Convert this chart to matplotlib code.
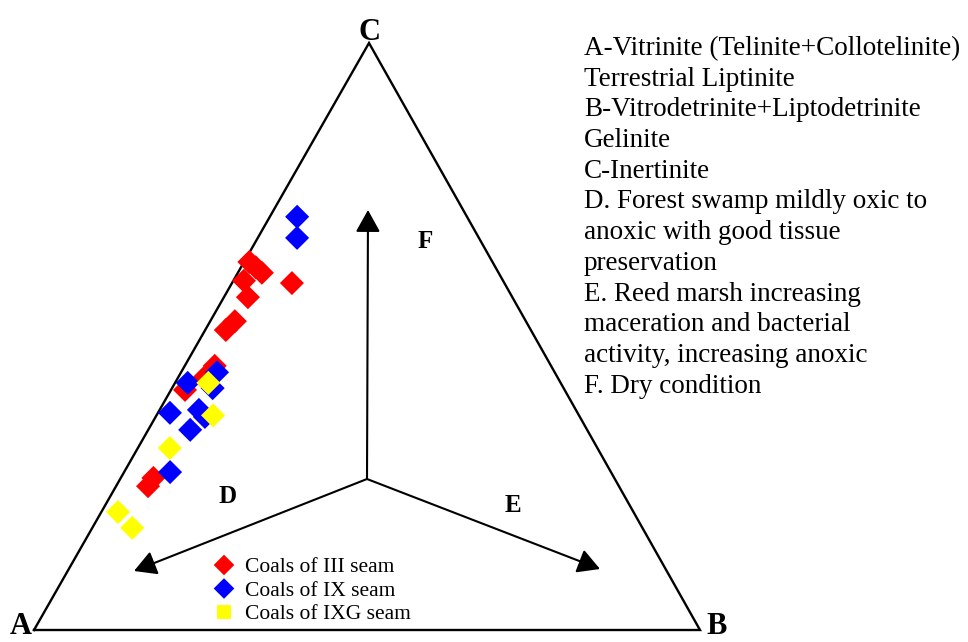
import matplotlib.pyplot as plt
import numpy as np

plt.rcParams['font.family'] = ['Liberation Serif', 'DejaVu Serif']

# maceral compositions in percent: (A, B, C)
seam_iii = np.array([
    [36.5, 0.8, 62.7], [36.0, 2.2, 61.8], [35.5, 3.6, 60.8], [38.9, 1.6, 59.5],
    [39.7, 3.6, 56.7], [31.9, 9.0, 59.1], [45.8, 3.1, 51.1], [43.7, 3.7, 52.6],
    [50.5, 4.5, 45.0], [53.2, 3.9, 42.9], [57.0, 2.1, 40.9], [70.7, 4.8, 24.5],
    [69.2, 4.9, 25.9],
])
seam_ix = np.array([
    [25.5, 4.1, 70.4], [27.3, 5.9, 66.8], [50.7, 5.4, 43.9], [52.7, 6.1, 41.2],
    [56.0, 1.9, 42.1], [61.2, 1.8, 37.0], [56.6, 5.9, 37.5], [56.3, 7.4, 36.3],
    [59.6, 6.3, 34.1], [66.2, 6.9, 26.9],
])
seam_ixg = np.array([
    [52.9, 5.0, 42.1], [55.0, 8.5, 36.6], [64.2, 4.8, 31.0], [77.4, 2.5, 20.1],
    [76.6, 6.0, 17.4],
])

series = [
    ('Coals of III seam', seam_iii, 'red', 'D'),
    ('Coals of IX seam', seam_ix, 'blue', 'D'),
    ('Coals of IXG seam', seam_ixg, 'yellow', 's'),
]

notes = [
    'A-Vitrinite (Telinite+Collotelinite)',
    'Terrestrial Liptinite',
    'B-Vitrodetrinite+Liptodetrinite',
    'Gelinite',
    'C-Inertinite',
    'D. Forest swamp mildly oxic to',
    'anoxic with good tissue',
    'preservation',
    'E. Reed marsh increasing',
    'maceration and bacterial',
    'activity, increasing anoxic',
    'F. Dry condition',
]

# triangle corners in figure pixels
VA = np.array([34.0, 630.0])
VB = np.array([700.0, 630.0])
VC = np.array([369.0, 43.0])


def to_xy(comp):
    f = comp / comp.sum(axis=1, keepdims=True)
    return f[:, [0]] * VA + f[:, [1]] * VB + f[:, [2]] * VC


fig = plt.figure(figsize=(9.68, 6.42), dpi=100)
ax = fig.add_axes([0, 0, 1, 1])
ax.set_xlim(0, 968)
ax.set_ylim(642, 0)
ax.axis('off')

tri = np.array([VA, VB, VC, VA])
ax.plot(tri[:, 0], tri[:, 1], color='black', lw=1.7, solid_joinstyle='miter')

# environment arrows from the centre
centre = (367, 479)
for tip in [(368, 210), (134, 571), (600, 569)]:
    ax.annotate('', xy=tip, xytext=centre,
                arrowprops=dict(arrowstyle='-|>,head_length=0.45,head_width=0.25',
                                mutation_scale=30, color='black', lw=1.5,
                                shrinkA=0, shrinkB=0))

for name, comp, col, mk in series:
    xy = to_xy(comp)
    ax.scatter(xy[:, 0], xy[:, 1], marker='D', s=150, color=col,
               edgecolors='none', zorder=3)

# corner and field labels
ax.text(369, 40, 'C', fontsize=22, fontweight='bold', ha='center', va='baseline')
ax.text(21, 641, 'A', fontsize=22, fontweight='bold', ha='center', va='bottom')
ax.text(717, 641, 'B', fontsize=22, fontweight='bold', ha='center', va='bottom')
ax.text(425, 248, 'F', fontsize=18, fontweight='bold', ha='center', va='baseline')
ax.text(228, 503, 'D', fontsize=18, fontweight='bold', ha='center', va='baseline')
ax.text(513, 512, 'E', fontsize=18, fontweight='bold', ha='center', va='baseline')

# legend
for i, (name, comp, col, mk) in enumerate(series):
    y = 565 + i * 23.5
    ax.scatter([224], [y], marker=mk, s=110 if mk == 'D' else 95,
               color=col, edgecolors='none')
    ax.text(245, y + 7, name, fontsize=15.5, ha='left', va='baseline')

# key to the diagram
for i, line in enumerate(notes):
    ax.text(584, 55 + i * 30.7, line, fontsize=19.5, ha='left', va='baseline')

fig.savefig('out.png', dpi=100)
